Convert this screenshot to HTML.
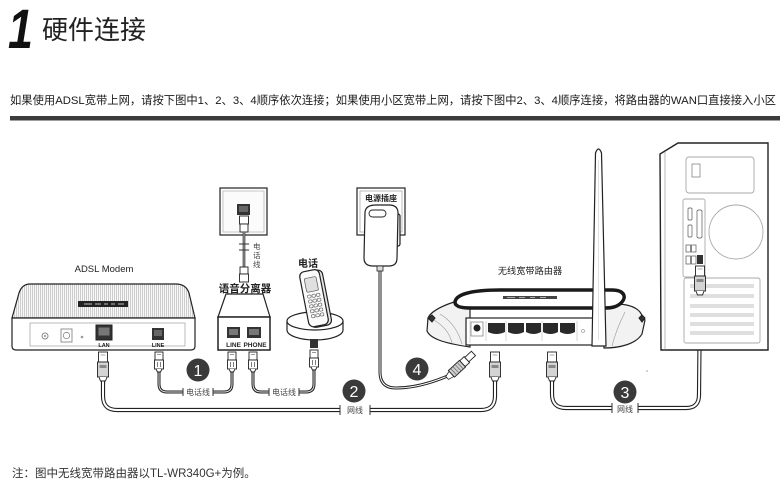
<!DOCTYPE html>
<html><head><meta charset="utf-8"><style>
html,body{margin:0;padding:0;background:#fff;}
svg{display:block;}
text{font-family:"Liberation Sans","Noto Sans CJK SC",sans-serif;}
.o{stroke:#222;stroke-width:1.2;}
.cab{fill:none;stroke:#222;stroke-width:4.2;stroke-linecap:butt;}
.cabi{fill:none;stroke:#fff;stroke-width:2;}
.pc{fill:none;stroke:#222;stroke-width:3;}
.pci{fill:none;stroke:#ddd;stroke-width:1;}
.tick{stroke:#333;stroke-width:1;}
.lbl{font-size:8px;fill:#444;}
</style></head><body>
<svg width="780" height="485" viewBox="0 0 780 485" xmlns="http://www.w3.org/2000/svg">
<defs>
<pattern id="hatch" width="2" height="4" patternUnits="userSpaceOnUse"><rect width="2" height="4" fill="#f8f8f8"/><rect width="1" height="4" fill="#cdcdcd"/></pattern>
<g id="rj45">
 <rect x="-4.5" y="0" width="9" height="10" fill="#fff" stroke="#222" stroke-width="0.9"/>
 <line x1="-2.5" y1="3" x2="2.5" y2="3" stroke="#777" stroke-width="0.6"/>
 <rect x="-5.5" y="10" width="11" height="15" fill="#d4d4d4" stroke="#222" stroke-width="0.9"/>
 <rect x="-3.5" y="13" width="7" height="3" fill="#888"/>
 <path d="M-4,25 L-2.5,29 L2.5,29 L4,25" fill="#fff" stroke="#222" stroke-width="0.9"/>
</g>
<g id="rj11">
 <rect x="-4" y="0" width="8" height="8" fill="#fff" stroke="#222" stroke-width="0.9"/>
 <line x1="-2" y1="2.5" x2="2" y2="2.5" stroke="#555" stroke-width="0.6"/>
 <rect x="-4.5" y="8" width="9" height="9" fill="#fff" stroke="#222" stroke-width="0.9"/>
 <line x1="-1.5" y1="10" x2="-1.5" y2="15" stroke="#444" stroke-width="0.7"/>
 <line x1="1.5" y1="10" x2="1.5" y2="15" stroke="#444" stroke-width="0.7"/>
 <path d="M-3,17 L-1.5,20 L1.5,20 L3,17" fill="#fff" stroke="#222" stroke-width="0.9"/>
</g>
</defs>

<!-- Title -->
<text transform="translate(8,48) scale(0.8,1)" font-size="56" font-weight="bold" font-style="italic" fill="#111">1</text>
<text x="42" y="39" font-size="26" fill="#222">硬件连接</text>

<text x="10" y="104" font-size="11.3" fill="#1a1a1a">如果使用ADSL宽带上网，请按下图中1、2、3、4顺序依次连接；如果使用小区宽带上网，请按下图中2、3、4顺序连接，将路由器的WAN口直接接入小区</text>
<rect x="10" y="116" width="770" height="4.5" fill="#3c3c3c"/>

<!-- ========== Cables ========== -->
<path class="cab" d="M103,380 L103,396 Q103,410 117,410 L340,410"/>
<path class="cabi" d="M103,380 L103,396 Q103,410 117,410 L340,410"/>
<path class="cab" d="M370,410 L481,410 Q495,410 495,396 L495,378"/>
<path class="cabi" d="M370,410 L481,410 Q495,410 495,396 L495,378"/>
<line class="tick" x1="340" y1="405" x2="340" y2="415"/>
<line class="tick" x1="370" y1="405" x2="370" y2="415"/>
<text class="lbl" x="355" y="413" text-anchor="middle">网线</text>

<path class="cab" d="M552,378 L552,394 Q552,408 566,408 L612,408"/>
<path class="cabi" d="M552,378 L552,394 Q552,408 566,408 L612,408"/>
<path class="cab" d="M638,408 L686,408 Q699,408 699,395 L700,294"/>
<path class="cabi" d="M638,408 L686,408 Q699,408 699,395 L700,294"/>
<line class="tick" x1="612" y1="403" x2="612" y2="413"/>
<line class="tick" x1="638" y1="403" x2="638" y2="413"/>
<text class="lbl" x="625" y="412" text-anchor="middle">网线</text>

<path class="pc" d="M159,368 L159,384 Q159,392 167,392 L183,392"/>
<path class="pci" d="M159,368 L159,384 Q159,392 167,392 L183,392"/>
<path class="pc" d="M213,392 L224,392 Q232,392 232,384 L232,371"/>
<path class="pci" d="M213,392 L224,392 Q232,392 232,384 L232,371"/>
<line class="tick" x1="183" y1="388" x2="183" y2="396"/>
<line class="tick" x1="213" y1="388" x2="213" y2="396"/>
<text class="lbl" x="198" y="395" text-anchor="middle">电话线</text>

<path class="pc" d="M253,371 L253,384 Q253,392 261,392 L269,392"/>
<path class="pci" d="M253,371 L253,384 Q253,392 261,392 L269,392"/>
<path class="pc" d="M299,392 L306,392 Q314,392 314,384 L314,368"/>
<path class="pci" d="M299,392 L306,392 Q314,392 314,384 L314,368"/>
<line class="tick" x1="269" y1="388" x2="269" y2="396"/>
<line class="tick" x1="299" y1="388" x2="299" y2="396"/>
<text class="lbl" x="284" y="395" text-anchor="middle">电话线</text>

<path class="pc" d="M380,268 L380,372 Q380,388 396,388 Q420,388 450,375"/>
<path fill="none" stroke="#fff" stroke-width="1" d="M380,268 L380,372 Q380,388 396,388 Q420,388 450,375"/>

<!-- ========== ADSL Modem ========== -->
<text x="104" y="272" font-size="9.5" fill="#222" text-anchor="middle">ADSL Modem</text>
<path class="o" fill="url(#hatch)" d="M30,284 L176,284 Q186,284 189,293 L195,318 L12,318 L19,293 Q22,284 30,284 Z"/>
<path class="o" fill="#fff" d="M12,318 L195,318 L195,346 Q195,350 191,350 L16,350 Q12,350 12,346 Z"/>
<rect x="78" y="301" width="50" height="6" fill="#222"/>
<path d="M84,304 h8 M95,304 h6 M104,304 h4 M111,304 h4 M118,304 h6" stroke="#bbb" stroke-width="1"/>
<rect x="30" y="323" width="155" height="23" fill="#fff" stroke="#aaa" stroke-width="0.8"/>
<circle cx="45" cy="336" r="3" fill="none" stroke="#888" stroke-width="1"/>
<circle cx="45" cy="336" r="1" fill="#888"/>
<rect x="61" y="329" width="11" height="13" fill="#fff" stroke="#888" stroke-width="0.9"/>
<circle cx="66.5" cy="335.5" r="3.2" fill="none" stroke="#888" stroke-width="0.8"/>
<circle cx="82" cy="337" r="1.3" fill="#999"/>
<rect x="96" y="325" width="16" height="15" fill="#333" stroke="#222"/>
<rect x="98.5" y="327.5" width="11" height="8" fill="#777"/>
<text x="104" y="347" font-size="5.5" font-weight="bold" fill="#222" text-anchor="middle">LAN</text>
<rect x="152" y="328" width="12" height="12" fill="#333"/>
<rect x="154" y="330" width="8" height="6" fill="#666"/>
<text x="158" y="347" font-size="5.5" font-weight="bold" fill="#222" text-anchor="middle">LINE</text>
<use href="#rj45" x="103" y="352"/>
<use href="#rj11" x="159" y="352"/>

<!-- ========== Phone wall jack ========== -->
<rect x="220" y="188" width="47" height="47" fill="#fbfbfb" class="o"/>
<rect x="223" y="191" width="41" height="41" fill="none" stroke="#bbb" stroke-width="0.8"/>
<rect x="237" y="204" width="13" height="11" fill="#333"/>
<rect x="239" y="206" width="9" height="6" fill="#666"/>
<rect x="239.5" y="216" width="9" height="8" fill="#fff" stroke="#222" stroke-width="0.9"/>
<rect x="240" y="224" width="8" height="8" fill="#fff" stroke="#222" stroke-width="0.9"/>
<line x1="244" y1="232" x2="244" y2="268" stroke="#222" stroke-width="2.6"/>
<line x1="244" y1="232" x2="244" y2="268" stroke="#ddd" stroke-width="0.9"/>
<line x1="239" y1="244" x2="249" y2="244" class="tick"/>
<line x1="239" y1="250" x2="249" y2="250" class="tick"/>
<rect x="240" y="267" width="8" height="7" fill="#fff" stroke="#222" stroke-width="0.9"/>
<rect x="239.5" y="274" width="9" height="8" fill="#fff" stroke="#222" stroke-width="0.9"/>
<text x="253" y="249" font-size="7.5" fill="#444">电</text>
<text x="253" y="258" font-size="7.5" fill="#444">话</text>
<text x="253" y="267" font-size="7.5" fill="#444">线</text>

<!-- ========== Splitter ========== -->
<text x="245" y="292" font-size="10.5" fill="#222" text-anchor="middle" font-weight="bold">语音分离器</text>
<path class="o" fill="#fff" d="M226,294 L263,294 L270,317 L218,317 Z"/>
<rect x="218" y="317" width="52" height="33" fill="#fff" stroke="#222" stroke-width="1.5"/>
<rect x="227" y="327" width="13" height="11" fill="#333"/>
<rect x="229" y="329" width="9" height="6" fill="#777"/>
<rect x="247" y="327" width="14" height="11" fill="#333"/>
<rect x="249" y="329" width="10" height="6" fill="#777"/>
<text x="233.5" y="347" font-size="6.5" font-weight="bold" fill="#222" text-anchor="middle">LINE</text>
<text x="255" y="347" font-size="6.5" font-weight="bold" fill="#222" text-anchor="middle">PHONE</text>
<use href="#rj11" x="232" y="352"/>
<use href="#rj11" x="253" y="352"/>

<!-- ========== Phone ========== -->
<text x="308" y="267" font-size="10" fill="#222" text-anchor="middle" font-weight="bold">电话</text>
<path class="o" fill="#fff" d="M287,321 L287,330 A28,10 0 0 0 343,330 L343,321"/>
<ellipse cx="315" cy="321" rx="28" ry="9" fill="#fff" class="o"/>
<g transform="translate(315,298) rotate(-11)">
 <rect x="-9" y="-27" width="21" height="56" rx="5" fill="#e8e8e8" class="o"/>
 <rect x="-11" y="-28" width="20" height="56" rx="5" fill="#fafafa" class="o"/>
 <rect x="-7" y="-21" width="12" height="14" rx="1.5" fill="#e0e0e0" stroke="#555" stroke-width="0.7"/>
 <g fill="none" stroke="#555" stroke-width="0.6">
  <rect x="-7" y="-4" width="3.5" height="3" rx="1"/><rect x="-2.5" y="-4" width="3.5" height="3" rx="1"/><rect x="2" y="-4" width="3.5" height="3" rx="1"/>
  <rect x="-7" y="1" width="3.5" height="3" rx="1"/><rect x="-2.5" y="1" width="3.5" height="3" rx="1"/><rect x="2" y="1" width="3.5" height="3" rx="1"/>
  <rect x="-7" y="6" width="3.5" height="3" rx="1"/><rect x="-2.5" y="6" width="3.5" height="3" rx="1"/><rect x="2" y="6" width="3.5" height="3" rx="1"/>
  <rect x="-7" y="11" width="3.5" height="3" rx="1"/><rect x="-2.5" y="11" width="3.5" height="3" rx="1"/><rect x="2" y="11" width="3.5" height="3" rx="1"/>
  <rect x="-7" y="16" width="3.5" height="3" rx="1"/><rect x="-2.5" y="16" width="3.5" height="3" rx="1"/><rect x="2" y="16" width="3.5" height="3" rx="1"/>
 </g>
</g>
<rect x="310" y="339" width="8" height="9" fill="#333"/>
<use href="#rj11" x="314" y="350"/>

<!-- ========== Power socket & adapter ========== -->
<rect x="357" y="188" width="48" height="47" fill="#fff" class="o"/>
<rect x="360" y="191" width="42" height="41" fill="none" stroke="#aaa" stroke-width="0.8"/>
<text x="381" y="201" font-size="8" font-weight="bold" fill="#222" text-anchor="middle">电源插座</text>
<rect x="393" y="214" width="7" height="32" rx="2" fill="#f0f0f0" class="o"/>
<path class="o" fill="#fff" stroke-width="1.4" d="M365,213 Q365,205 376,205 L389,205 Q398,205 398,213 L397,258 Q397,266 389,266 L373,266 Q364,266 364,258 Z"/>
<rect x="369" y="210" width="17" height="7" rx="3.5" fill="#fff" stroke="#222" stroke-width="0.9"/>
<rect x="377" y="266" width="6" height="5" fill="#ddd" stroke="#222" stroke-width="0.8"/>
<g transform="translate(461,365) rotate(-43)">
 <path d="M-19,-2 L-13,-3.5 L-13,3.5 L-19,2 Z" fill="#fff" stroke="#222" stroke-width="0.8"/>
 <rect x="-13" y="-4.5" width="15" height="9" fill="#d0d0d0" stroke="#222" stroke-width="0.9"/>
 <path d="M-10,-4.5 v9 M-7,-4.5 v9 M-4,-4.5 v9 M-1,-4.5 v9" stroke="#666" stroke-width="0.7"/>
 <rect x="2" y="-4" width="6" height="8" fill="#fff" stroke="#222" stroke-width="0.9"/>
 <rect x="8" y="-3" width="9" height="6" fill="#fff" stroke="#222" stroke-width="0.9"/>
</g>

<!-- ========== Router ========== -->
<text x="530" y="274" font-size="9.2" fill="#222" text-anchor="middle">无线宽带路由器</text>
<path class="o" fill="#f2f2f2" d="M470,306 L454,302 C442,306 431,311 428,318 L427,331 C430,338 442,343 470,347 Z"/>
<path fill="none" stroke="#999" stroke-width="0.6" d="M440,314 C450,320 458,330 462,344 M434,320 C444,326 450,334 452,343"/>
<path fill="#333" stroke="#222" d="M428,318 l4,-3 l3,3 l-3,4 Z"/>
<path class="o" fill="#f2f2f2" d="M604,306 C620,302 634,305 640,312 L645,320 L642,334 C636,344 620,348 604,348 Z"/>
<path fill="none" stroke="#999" stroke-width="0.6" d="M625,312 C620,322 615,334 612,346"/>
<path fill="#333" stroke="#222" d="M645,318 l-3,-3 l-3,3 l3,4 Z"/>
<path fill="#fff" stroke="#1a1a1a" stroke-width="3.5" d="M455,302 C456,294 472,290 500,290 L612,290 C624,290 628,297 620,304 C616,307 612,308 604,308 L470,308 C460,308 455,306 455,302 Z"/>
<rect x="503" y="296" width="54" height="3" fill="#444"/>
<path d="M507,297.5 h8 M519,297.5 h6 M530,297.5 h5 M540,297.5 h6" stroke="#ccc" stroke-width="0.8"/>
<rect x="466" y="318" width="128" height="27" fill="#fff" class="o"/>
<line x1="470" y1="320" x2="470" y2="343" stroke="#bbb" stroke-width="0.6"/>
<rect x="471" y="322" width="12" height="14" fill="#fff" stroke="#777" stroke-width="0.7"/>
<circle cx="477" cy="328" r="3.5" fill="#222"/>
<g fill="#2a2a2a">
 <path d="M488,323 h17 v9 q-8.5,4 -17,0 Z"/>
 <path d="M508,323 h16 v9 q-8,4 -16,0 Z"/>
 <path d="M526,323 h15 v9 q-7.5,4 -15,0 Z"/>
 <path d="M543,323 h15 v9 q-7.5,4 -15,0 Z"/>
 <path d="M560,323 h15 v9 q-7.5,4 -15,0 Z"/>
</g>
<path d="M486,321 v20 M506,321 v20 M542,321 v20 M577,321 v20" stroke="#bbb" stroke-width="0.6"/>
<circle cx="583" cy="331" r="1.5" fill="none" stroke="#888" stroke-width="0.6"/>
<path fill="#fff" stroke="#222" stroke-width="1.2" d="M595.5,153 Q598.5,145 601.5,153 L606,346 L592,346 Z"/>
<line x1="598.5" y1="160" x2="598.5" y2="340" stroke="#ccc" stroke-width="0.6"/>
<use href="#rj45" x="495" y="352"/>
<use href="#rj45" x="552" y="352"/>

<!-- ========== Computer ========== -->
<path fill="#fff" stroke="#222" stroke-width="1.4" d="M678,143 L768,143 L768,350 L661,350 L660,154 Z"/>
<line x1="665" y1="152" x2="665" y2="350" stroke="#888" stroke-width="0.6"/>
<rect x="686" y="157" width="68" height="36" rx="3" fill="none" stroke="#aaa" stroke-width="0.9"/>
<rect x="692" y="164" width="8" height="13" fill="none" stroke="#777" stroke-width="0.7"/>
<rect x="683" y="199" width="22" height="78" rx="2" fill="none" stroke="#aaa" stroke-width="0.9"/>
<g fill="#fff" stroke="#555" stroke-width="0.7">
 <rect x="688" y="208" width="4" height="12" rx="1"/>
 <rect x="688" y="225" width="4" height="12" rx="1"/>
 <rect x="697" y="210" width="5" height="28" rx="1.5"/>
 <rect x="686" y="245" width="4.5" height="7"/>
 <rect x="691.5" y="245" width="4.5" height="7"/>
 <rect x="686" y="256" width="4.5" height="8"/>
 <rect x="691.5" y="256" width="4.5" height="8"/>
</g>
<rect x="697" y="255" width="6" height="9" fill="#333"/>
<circle cx="736" cy="232" r="27" fill="none" stroke="#aaa" stroke-width="0.9"/>
<rect x="684" y="278" width="76" height="65" rx="2" fill="none" stroke="#aaa" stroke-width="0.9"/>
<g stroke="#aaa" stroke-width="0.8">
 <path d="M690,285 h64 M690,287 h64"/>
 <path d="M690,295 h64 M690,297 h64"/>
 <path d="M690,305 h64 M690,307 h64"/>
 <path d="M690,314 h64 M690,316 h64"/>
 <path d="M690,323 h64 M690,325 h64"/>
 <path d="M690,332 h64 M690,334 h64"/>
</g>
<use href="#rj45" x="700" y="266"/>
<circle cx="647" cy="371" r="0.8" fill="#999"/>

<!-- ========== Number circles ========== -->
<g font-size="16" fill="#fff" text-anchor="middle">
 <circle cx="198" cy="370" r="11.5" fill="#3a3a3a"/><text x="198" y="375.8">1</text>
 <circle cx="354" cy="391" r="11.5" fill="#3a3a3a"/><text x="354" y="396.8">2</text>
 <circle cx="625" cy="392" r="11.5" fill="#3a3a3a"/><text x="625" y="397.8">3</text>
 <circle cx="417" cy="369" r="11.5" fill="#3a3a3a"/><text x="417" y="374.8">4</text>
</g>

<text x="12" y="477" font-size="11.5" fill="#333">注：图中无线宽带路由器以TL-WR340G+为例。</text>
</svg>
</body></html>
